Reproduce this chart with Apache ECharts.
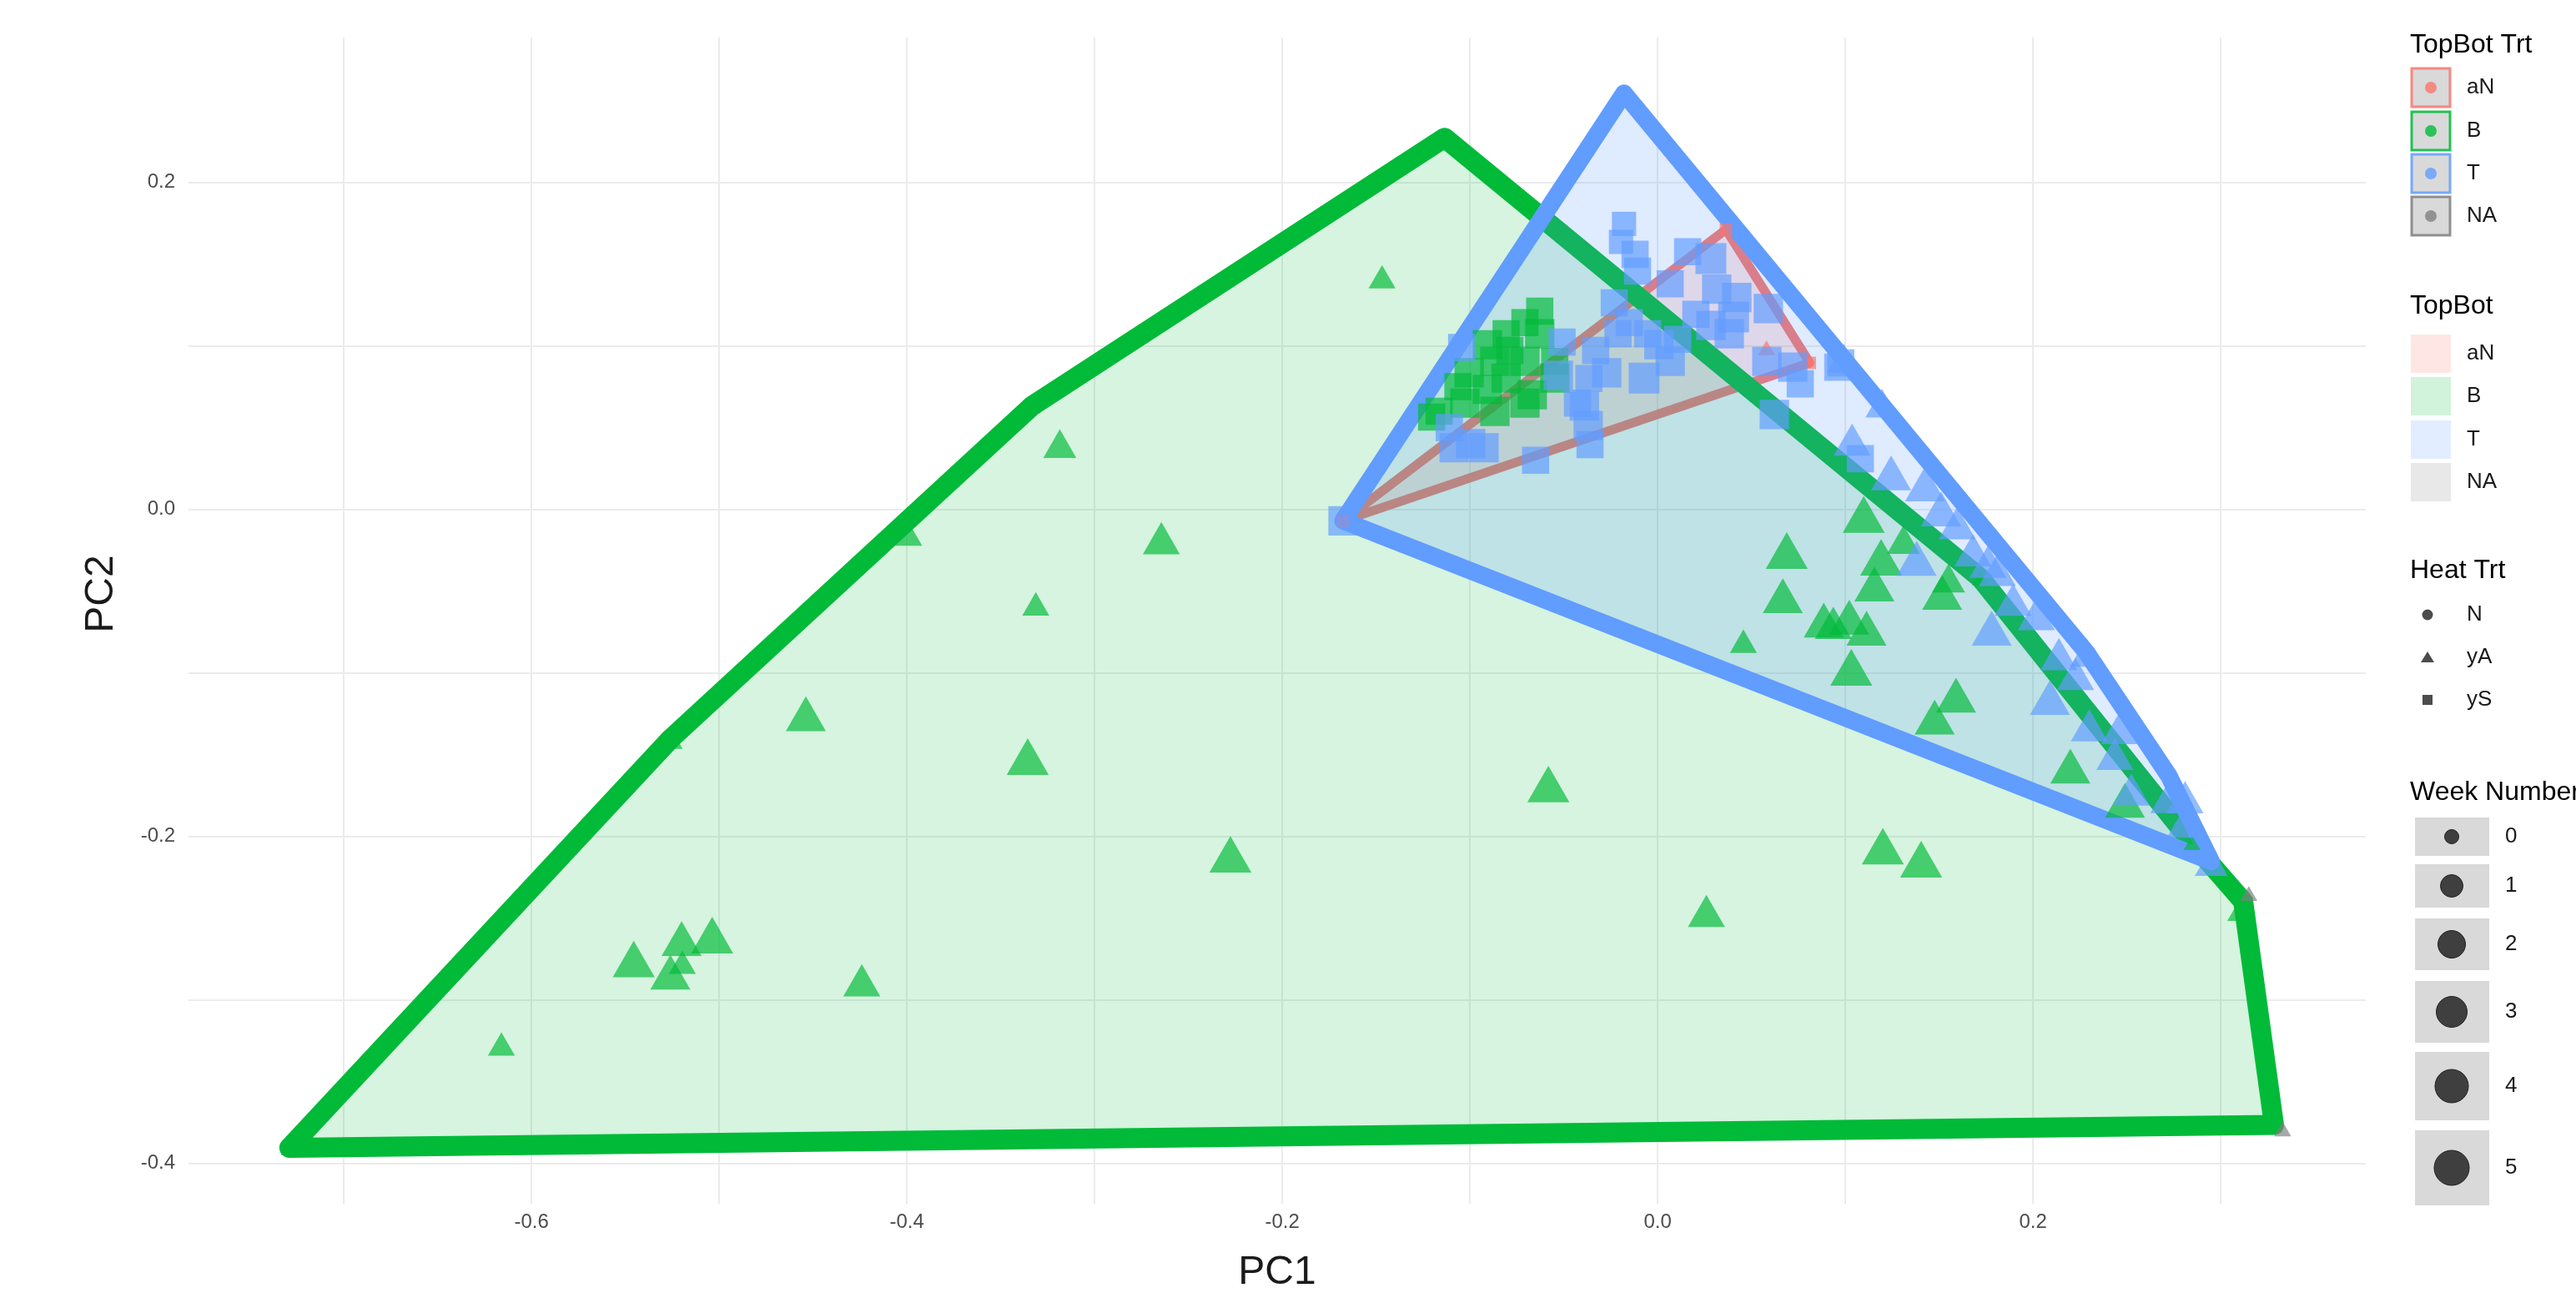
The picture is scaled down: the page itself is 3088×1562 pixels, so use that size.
<!DOCTYPE html>
<html><head><meta charset="utf-8">
<script src="https://cdn.jsdelivr.net/npm/echarts@6/dist/echarts.min.js"></script>
<style>html,body{margin:0;padding:0;background:#fff}#c{width:3088px;height:1562px}</style>
</head><body><div id="c"></div>
<script>
// ---------- data ----------
const xLabelTicks = [-0.6, -0.4, -0.2, 0.0, 0.2];
const yLabelTicks = [-0.4, -0.2, 0.0, 0.2];
const xGridTicks = [-0.7, -0.6, -0.5, -0.4, -0.3, -0.2, -0.1, 0.0, 0.1, 0.2, 0.3];
const yGridTicks = [-0.4, -0.3, -0.2, -0.1, 0.0, 0.1, 0.2];
const X_MIN = -0.7827, X_MAX = 0.3773, Y_MIN = -0.4247, Y_MAX = 0.2886;

const topBotTrt = ['aN', 'B', 'T', 'NA'];
const topBot = ['aN', 'B', 'T', 'NA'];
const heatTrt = ['N', 'yA', 'yS'];
const weekNumbers = [0, 1, 2, 3, 4, 5];

// points: [PC1, PC2, week]
const aN_yA = [[0.058, 0.0988, 0]];
const aN_yS = [[0.0364, 0.1712, 0], [0.0811, 0.0896, 0], [-0.1676, -0.007, 0]];
const B_yA = [
  [-0.1135, 0.2273, 0], [-0.1468, 0.1423, 1], [-0.3185, 0.0402, 2], [-0.3333, 0.0633, 0],
  [-0.399, -0.0151, 1], [-0.2644, -0.0176, 3], [-0.3313, -0.0578, 1], [-0.4538, -0.125, 4],
  [-0.3356, -0.1512, 5], [-0.524, -0.142, 0], [-0.2276, -0.211, 5], [-0.0582, -0.168, 5],
  [0.026, -0.2456, 3], [-0.5455, -0.275, 5], [-0.520, -0.2625, 4], [-0.5037, -0.2604, 5],
  [-0.5196, -0.277, 1], [-0.526, -0.283, 4], [-0.424, -0.288, 3], [-0.616, -0.327, 1],
  [-0.729, -0.3905, 0], [0.12, -0.206, 5], [0.1404, -0.214, 5], [0.3107, -0.2446, 1],
  [0.3284, -0.3765, 0], [0.2847, -0.2038, 0], [0.172, -0.042, 0],
  [0.1098, -0.0031, 5], [0.0688, -0.0252, 5], [0.1191, -0.0293, 5], [0.0667, -0.0528, 4],
  [0.1155, -0.0457, 4], [0.1516, -0.0508, 4], [0.0885, -0.0677, 4], [0.1021, -0.066, 4],
  [0.0936, -0.0694, 3], [0.1113, -0.0727, 4], [0.0457, -0.0806, 1], [0.1032, -0.0966, 5],
  [0.159, -0.1136, 4], [0.1476, -0.127, 4], [0.2199, -0.157, 4], [0.249, -0.178, 4],
  [0.131, -0.0185, 2], [0.155, -0.042, 2]
];
const B_yS = [
  [-0.0628, 0.1212, 3], [-0.0707, 0.1142, 3], [-0.0628, 0.1074, 4], [-0.0807, 0.1074, 3],
  [-0.0907, 0.1007, 4], [-0.0787, 0.0972, 3], [-0.0867, 0.0905, 4], [-0.0707, 0.0905, 4],
  [-0.1004, 0.0836, 4], [-0.0807, 0.0803, 4], [-0.0548, 0.0803, 4], [-0.1064, 0.0751, 3],
  [-0.0907, 0.0734, 4], [-0.0668, 0.0701, 4], [-0.1027, 0.065, 4], [-0.1164, 0.06, 3],
  [-0.0867, 0.06, 4], [-0.1204, 0.0564, 3], [-0.0707, 0.065, 4], [-0.0548, 0.0905, 3]
];
const T_yA = [
  [0.0992, 0.0925, 2], [0.1195, 0.065, 2], [0.1036, 0.0427, 3], [0.1244, 0.0223, 4],
  [0.1425, 0.0156, 4], [0.151, 0.0003, 4], [0.1596, -0.0084, 3], [0.138, -0.030, 4],
  [0.168, -0.025, 3], [0.181, -0.037, 3], [0.176, -0.032, 3], [0.178, -0.0727, 4],
  [0.2018, -0.064, 3], [0.2138, -0.0885, 3], [0.2227, -0.1007, 3], [0.209, -0.115, 4],
  [0.23, -0.132, 3], [0.2436, -0.1495, 3], [0.2524, -0.1714, 3], [0.281, -0.176, 3],
  [0.2724, -0.1759, 3], [0.2812, -0.191, 3], [0.295, -0.2154, 2], [0.2285, -0.0875, 2],
  [0.1894, -0.0553, 3], [0.2462, -0.1337, 3]
];
const T_yS = [
  [-0.0179, 0.2545, 0], [-0.0179, 0.1746, 2], [-0.0195, 0.1636, 2], [-0.012, 0.156, 3],
  [-0.0107, 0.1457, 3], [0.016, 0.1576, 3], [0.0284, 0.1534, 5], [0.0067, 0.138, 3],
  [0.0315, 0.1347, 4], [0.0422, 0.1296, 4], [0.059, 0.1228, 4], [0.0405, 0.1176, 5],
  [0.0284, 0.1125, 4], [0.0382, 0.1074, 4], [-0.0231, 0.1263, 3], [-0.0151, 0.1142, 3],
  [-0.0211, 0.1074, 3], [0.0007, 0.1007, 4], [0.0067, 0.0905, 4], [-0.0072, 0.0803, 5],
  [-0.033, 0.0972, 3], [-0.0271, 0.0836, 4], [-0.039, 0.0632, 4], [-0.037, 0.0513, 4],
  [-0.065, 0.03, 3], [-0.036, 0.0396, 3], [-0.0509, 0.1023, 3], [-0.0529, 0.082, 4],
  [-0.1084, 0.0377, 4], [-0.0925, 0.0377, 4], [-0.1044, 0.099, 3], [0.0582, 0.0905, 4],
  [0.072, 0.087, 4], [0.096, 0.087, 3], [0.076, 0.0768, 3], [0.0622, 0.058, 4],
  [0.0204, 0.1193, 3], [-0.0053, 0.1074, 3], [0.0107, 0.104, 3], [0.0976, 0.0896, 3],
  [0.108, 0.031, 3], [-0.1676, -0.007, 4], [-0.0996, 0.0402, 4], [-0.111, 0.05, 3],
  [-0.0427, 0.065, 3], [-0.0366, 0.080, 3]
];
const NA_yA = [[0.315, -0.235, 0], [0.333, -0.379, 0]];

// convex hulls (vertex order)
const hullAN = [[0.0364, 0.1712], [0.0811, 0.0896], [-0.1676, -0.007]];
const hullB = [[-0.1135, 0.2273], [0.172, -0.042], [0.2847, -0.2038], [0.312, -0.2398],
  [0.3284, -0.3765], [-0.729, -0.3905], [-0.526, -0.1405], [-0.3333, 0.0633]];
const hullT = [[-0.0179, 0.2545], [0.2285, -0.0875], [0.2724, -0.163], [0.295, -0.2154], [-0.1676, -0.007]];

// ---------- styling ----------
const COL = { aN: '#F8766D', B: '#00BA38', T: '#619CFF', NA: '#7F7F7F' };
const FONT = '"Liberation Sans", Arial, Helvetica, sans-serif';
const circleD = [17, 27, 33, 37, 40, 42];
function rgba(hex, a) {
  const n = parseInt(hex.slice(1), 16);
  return `rgba(${(n >> 16) & 255},${(n >> 8) & 255},${n & 255},${a})`;
}
function symSize(shape, w) {
  const d = circleD[w];
  if (shape === 'triangle') { const s = d * 1.2; return [s, s * 0.87]; }
  if (shape === 'rect') return d * 0.88;
  return d;
}
function pts(data, color, shape) {
  return {
    type: 'scatter', data, symbol: shape, silent: true,
    symbolSize: v => symSize(shape, v[2]),
    itemStyle: { color, opacity: 0.68 }
  };
}
function hull(vs, color, lw, fillA) {
  return {
    type: 'custom', coordinateSystem: 'cartesian2d', data: vs, silent: true, clip: true,
    renderItem: (params, api) => {
      if (params.dataIndex !== 0) return;
      const p = vs.map(v => api.coord(v));
      return { type: 'polygon', shape: { points: p },
        style: { fill: rgba(color, fillA), stroke: color, lineWidth: lw, lineJoin: 'round' } };
    }
  };
}

// ---------- legend graphics ----------
const g = [];
const LX = 2889, TX = 2957;
function title(t, y) { g.push({ type: 'text', x: LX, y, style: { text: t, font: `32px ${FONT}`, fill: '#000', verticalAlign: 'middle' } }); }
function label(t, x, y) { g.push({ type: 'text', x, y, style: { text: t, font: `26px ${FONT}`, fill: '#1a1a1a', verticalAlign: 'middle' } }); }

title('TopBot Trt', 54);
const trtY = [105, 157, 208, 259];
topBotTrt.forEach((k, i) => {
  g.push({ type: 'rect', shape: { x: LX + 2, y: trtY[i] - 23, width: 46, height: 46 },
    style: { fill: '#d9d9d9', stroke: rgba(COL[k], 0.85), lineWidth: 3 } });
  g.push({ type: 'circle', shape: { cx: LX + 25, cy: trtY[i], r: 7 }, style: { fill: rgba(COL[k], 0.8) } });
  label(k, TX, trtY[i]);
});
title('TopBot', 367);
const tbY = [424, 475, 527, 578];
topBot.forEach((k, i) => {
  g.push({ type: 'rect', shape: { x: LX + 1, y: tbY[i] - 23, width: 48, height: 46 },
    style: { fill: rgba(COL[k], 0.18) } });
  label(k, TX, tbY[i]);
});
title('Heat Trt', 684);
const htY = [737, 788, 839];
const dk = 'rgba(0,0,0,0.7)';
const HX = 2910;
g.push({ type: 'circle', shape: { cx: HX, cy: htY[0], r: 6.5 }, style: { fill: dk } });
g.push({ type: 'polygon', shape: { points: [[HX, htY[1] - 7], [HX + 8, htY[1] + 6], [HX - 8, htY[1] + 6]] }, style: { fill: dk } });
g.push({ type: 'rect', shape: { x: HX - 6, y: htY[2] - 6, width: 12, height: 12 }, style: { fill: dk } });
heatTrt.forEach((k, i) => label(k, TX, htY[i]));
title('Week Number', 950);
const wkY = [1003, 1062, 1132, 1213, 1302, 1400];
const wkH = [46, 52, 62, 74, 82, 90];
weekNumbers.forEach((w, i) => {
  g.push({ type: 'rect', shape: { x: 2895, y: wkY[i] - wkH[i] / 2, width: 89, height: wkH[i] }, style: { fill: '#d9d9d9' } });
  g.push({ type: 'circle', shape: { cx: 2939, cy: wkY[i], r: circleD[i] / 2 }, style: { fill: '#3f3f3f', stroke: '#222', lineWidth: 1 } });
  label(String(w), 3003, wkY[i]);
});
// axis titles
g.push({ type: 'text', x: 1531, y: 1526, style: { text: 'PC1', font: `48px ${FONT}`, fill: '#1a1a1a', align: 'center', verticalAlign: 'middle' } });
g.push({ type: 'text', x: 122, y: 712, rotation: Math.PI / 2, style: { text: 'PC2', font: `48px ${FONT}`, fill: '#1a1a1a', align: 'center', verticalAlign: 'middle' } });

const chart = echarts.init(document.getElementById('c'), null, { renderer: 'canvas' });
chart.setOption({
  animation: false,
  backgroundColor: '#ffffff',
  grid: { left: 226, right: 252, top: 45, bottom: 119, containLabel: false },
  xAxis: {
    type: 'value', min: X_MIN, max: X_MAX,
    axisLine: { show: false }, axisTick: { show: false, customValues: xGridTicks },
    axisLabel: { customValues: xLabelTicks, formatter: v => Number(v).toFixed(1), color: '#4d4d4d', fontSize: 24, fontFamily: FONT, margin: 10 },
    splitLine: { show: true, lineStyle: { color: '#ebebeb', width: 2 } }
  },
  yAxis: {
    type: 'value', min: Y_MIN, max: Y_MAX,
    axisLine: { show: false }, axisTick: { show: false, customValues: yGridTicks },
    axisLabel: { customValues: yLabelTicks, formatter: v => Number(v).toFixed(1), color: '#4d4d4d', fontSize: 24, fontFamily: FONT, margin: 16 },
    splitLine: { show: true, lineStyle: { color: '#ebebeb', width: 2 } }
  },
  graphic: g,
  series: [
    pts(aN_yS, COL.aN, 'rect'), pts(aN_yA, COL.aN, 'triangle'),
    pts(B_yA, COL.B, 'triangle'), pts(B_yS, COL.B, 'rect'),
    pts(T_yA, COL.T, 'triangle'), pts(T_yS, COL.T, 'rect'),
    hull(hullAN, COL.aN, 11, 0.18),
    hull(hullB, COL.B, 24, 0.16),
    hull(hullT, COL.T, 21, 0.2),
    pts(NA_yA, COL.NA, 'triangle')
  ]
});
</script></body></html>
